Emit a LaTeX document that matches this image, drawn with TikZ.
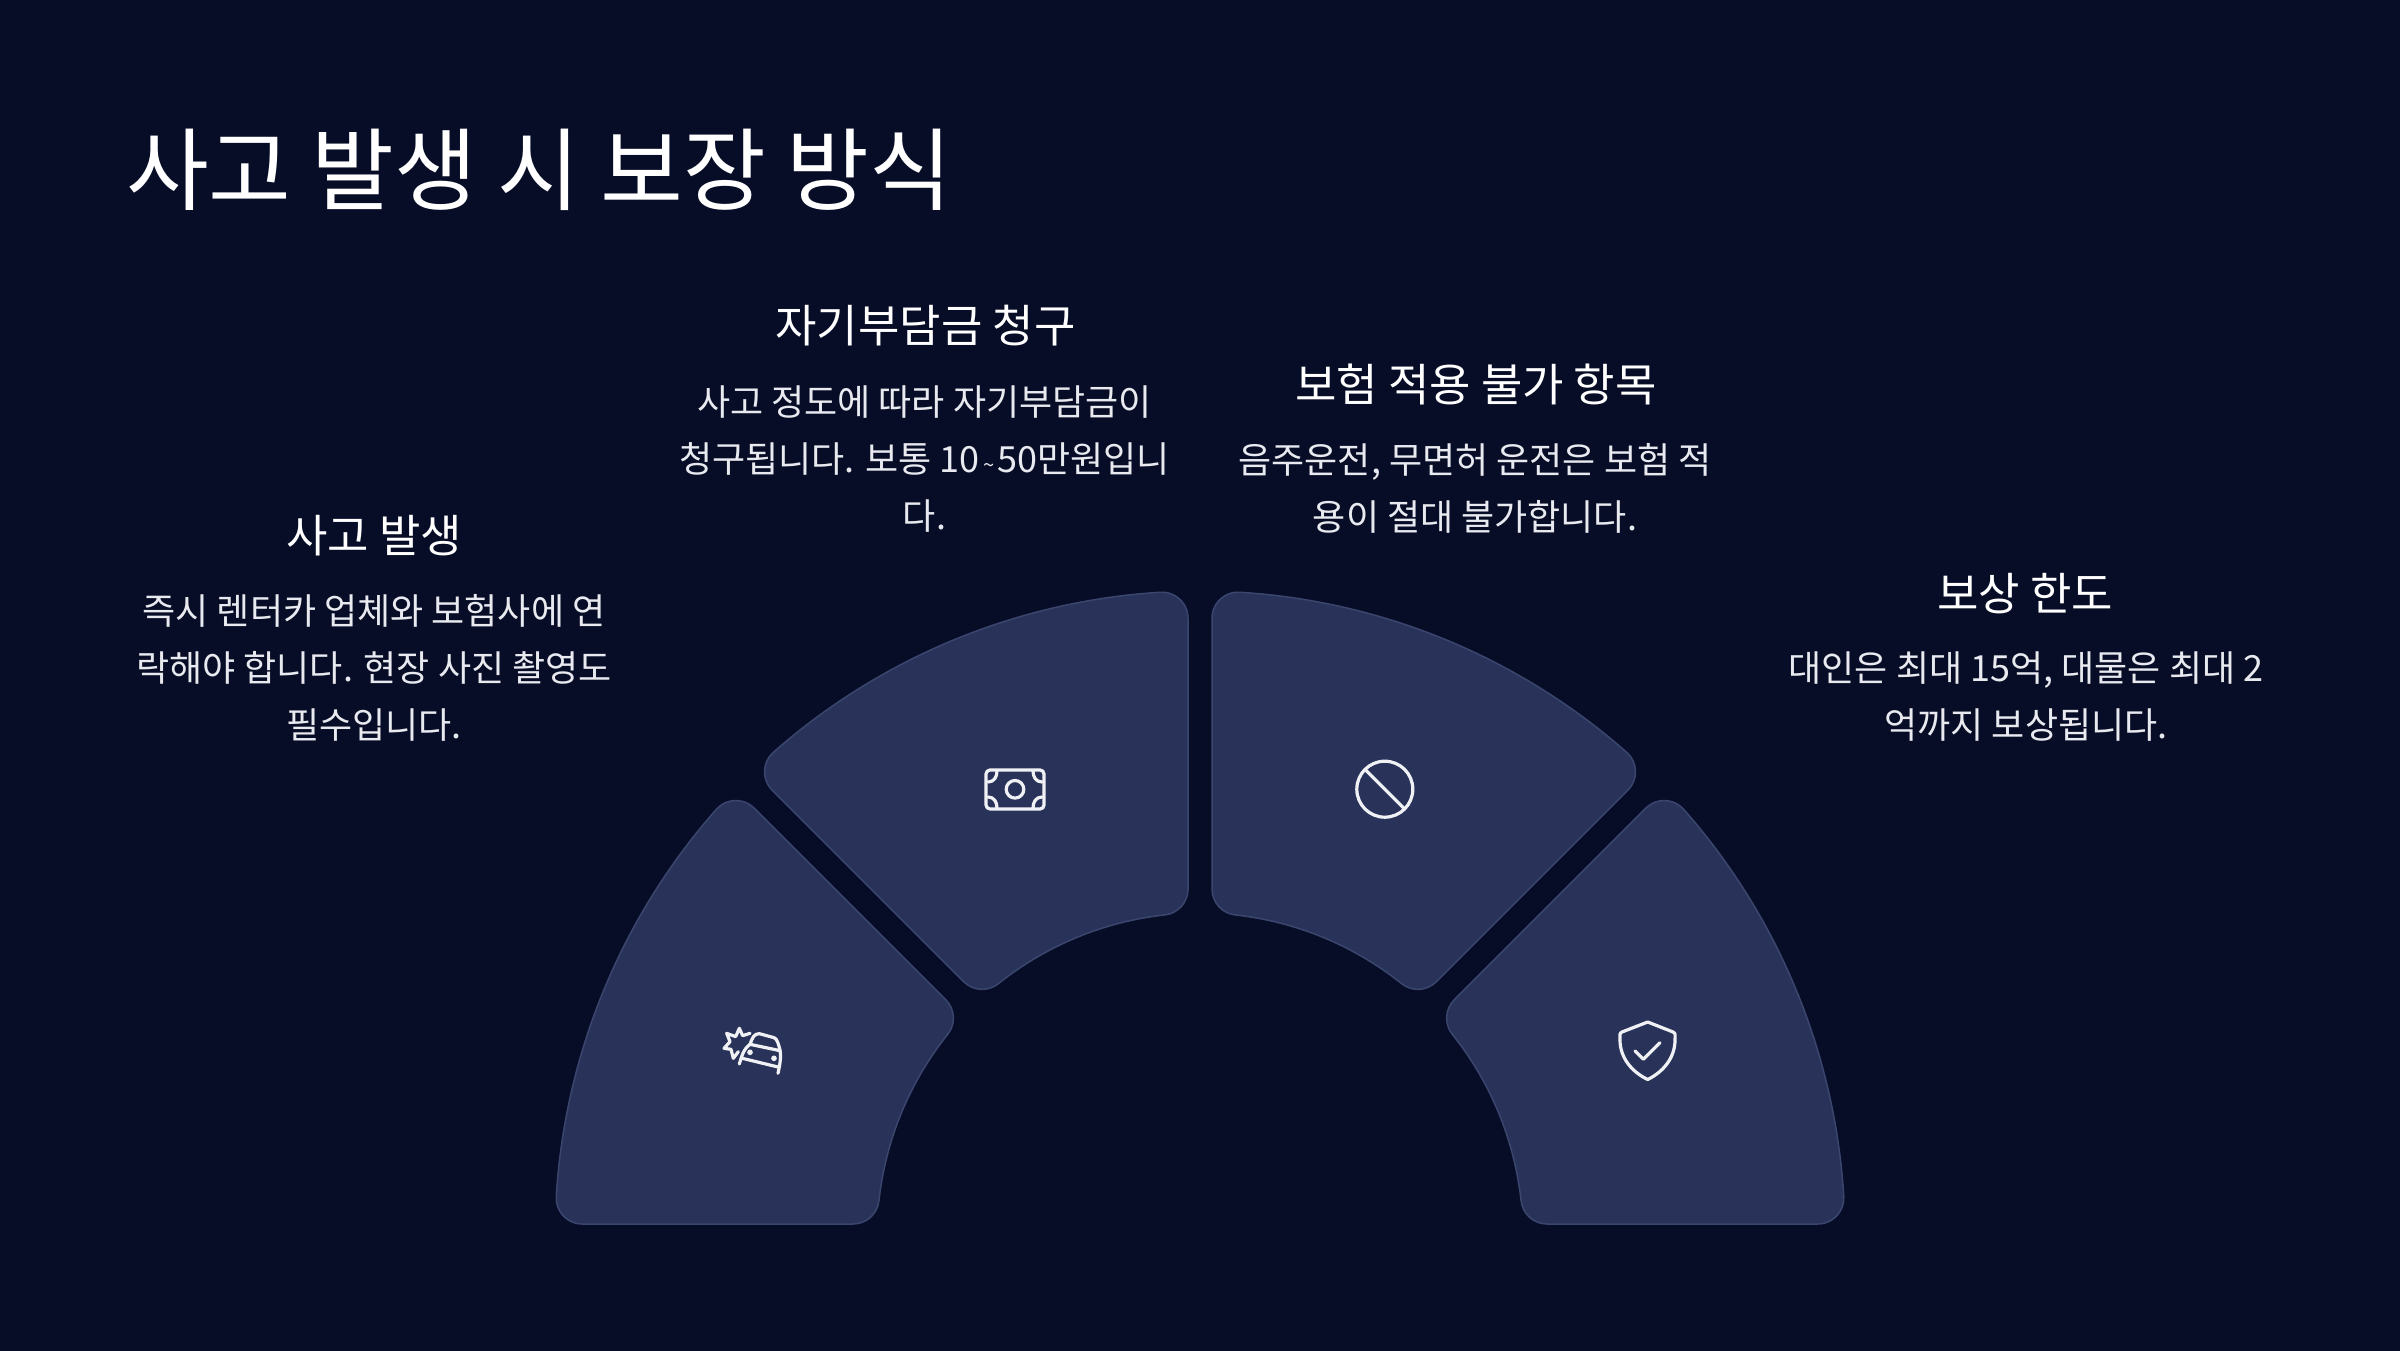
\documentclass[tikz,border=0pt]{standalone}
\usepackage{fontspec}
\setmainfont{Noto Sans CJK KR}
\definecolor{bgc}{RGB}{7,13,38}
\definecolor{segc}{RGB}{41,51,89}
\definecolor{segl}{RGB}{58,70,110}
\definecolor{bodyc}{RGB}{232,234,240}
\definecolor{iconc}{RGB}{240,241,245}
\tikzset{
  segshape/.style={fill=segc,draw=segl,line width=1.5pt},
  headtxt/.style={text=white,inner sep=0pt,anchor=center,font=\fontsize{45}{52}\selectfont},
  bodytxt/.style={text=bodyc,inner sep=0pt,anchor=center,align=center,font=\fontsize{36}{57}\selectfont},
  iconline/.style={draw=iconc,line width=3.2pt,line cap=round,line join=round,fill=none}
}
\newcommand{\segdraw}[4]{%
  \pgfmathsetmacro\dOa{asin((#3+26)/619)}%
  \pgfmathsetmacro\dOb{asin((#4+26)/619)}%
  \pgfmathsetmacro\dIa{asin((#3+26)/349)}%
  \pgfmathsetmacro\dIb{asin((#4+26)/349)}%
  \pgfmathsetmacro\tOa{619*cos(\dOa)}%
  \pgfmathsetmacro\tOb{619*cos(\dOb)}%
  \pgfmathsetmacro\tIa{349*cos(\dIa)}%
  \pgfmathsetmacro\tIb{349*cos(\dIb)}%
  \pgfmathsetmacro\xOa{\tOa*cos(#1)-#3*sin(#1)}%
  \pgfmathsetmacro\yOa{\tOa*sin(#1)+#3*cos(#1)}%
  \pgfmathsetmacro\xIa{\tIa*cos(#1)-#3*sin(#1)}%
  \pgfmathsetmacro\yIa{\tIa*sin(#1)+#3*cos(#1)}%
  \pgfmathsetmacro\xOb{\tOb*cos(#2)+#4*sin(#2)}%
  \pgfmathsetmacro\yOb{\tOb*sin(#2)-#4*cos(#2)}%
  \pgfmathsetmacro\xIb{\tIb*cos(#2)+#4*sin(#2)}%
  \pgfmathsetmacro\yIb{\tIb*sin(#2)-#4*cos(#2)}%
  \pgfmathsetmacro\phOa{#1+\dOa}%
  \pgfmathsetmacro\phOb{#2-\dOb}%
  \pgfmathsetmacro\phIa{#1+\dIa}%
  \pgfmathsetmacro\phIb{#2-\dIb}%
  \draw[segshape] (\phOa:645pt)
    arc[start angle=\phOa,end angle=\phOb,radius=645pt]
    arc[start angle=\phOb,end angle=#2+90,radius=26pt]
    -- (\xIb pt,\yIb pt)
    arc[start angle=#2+90,end angle=\phIb+180,radius=26pt]
    arc[start angle=\phIb,end angle=\phIa,radius=323pt]
    arc[start angle=\phIa+180,end angle=#1+270,radius=26pt]
    -- (\xOa pt,\yOa pt)
    arc[start angle=#1+270,end angle=\phOa+360,radius=26pt]
    -- cycle;%
}
\begin{document}
\begin{tikzpicture}[x=1pt,y=1pt]
\begin{scope}[shift={(0,1350)},yscale=-1]
\path[use as bounding box] (0,0) rectangle (2400,1350);
\fill[bgc] (-6,-6) rectangle (2406,1356);
\begin{scope}[shift={(1200,1236)},yscale=-1]
  \segdraw{135}{180}{12.7}{12}
  \segdraw{90}{135}{12}{12.7}
  \segdraw{45}{90}{12.7}{12}
  \segdraw{0}{45}{12}{12.7}
\end{scope}

\node[text=white,inner sep=0pt,anchor=center,font=\fontsize{90}{100}\selectfont] (title) at (539,170) {사고 발생 시 보장 방식};

\node[headtxt] (h1) at (374,536) {사고 발생};
\node[bodytxt] (b1) at (374,668) {즉시 렌터카 업체와 보험사에 연\\락해야 합니다. 현장 사진 촬영도\\필수입니다.};
\node[headtxt] (h2) at (925.5,326) {자기부담금 청구};
\node[bodytxt] (b2) at (924.5,459) {사고 정도에 따라 자기부담금이\\청구됩니다. 보통 10{\fontsize{20}{20}\selectfont\,\textasciitilde\,}50만원입니\\다.};
\node[headtxt] (h3) at (1476,384) {보험 적용 불가 항목};
\node[bodytxt] (b3) at (1475,488) {음주운전, 무면허 운전은 보험 적\\용이 절대 불가합니다.};
\node[headtxt] (h4) at (2025,594) {보상 한도};
\node[bodytxt] (b4) at (2026,697) {대인은 최대 15억, 대물은 최대 2\\억까지 보상됩니다.};

% car crash icon
\begin{scope}[shift={(700,990)},scale=0.3333]
  \draw[iconline] (150,130)--(128,137)--(118,115)--(107,140)--(80,130)--(90,155)--(72,175)--(93,178)--(100,205)--(115,185);
  \draw[iconline] (150,163) .. controls (156,146) and (162,130) .. (178,131) -- (222,143) .. controls (232,146) and (236,165) .. (240,180) .. controls (243,195) and (242,215) .. (234,250);
  \draw[iconline] (150,163) -- (240,182);
  \draw[iconline] (150,163) .. controls (132,176) and (128,190) .. (118,222);
  \draw[iconline] (127,205) -- (238,232);
  \fill[iconc] (150,187) circle (8.5);
  \fill[iconc] (222,205) circle (8.5);
\end{scope}

% money icon
\draw[iconline,rounded corners=4pt] (986,770) rectangle (1044,809);
\draw[iconline] (1015,789.3) circle (8.8);
\draw[iconline] (988,782) .. controls (994,782) and (997,777) .. (997,771);
\draw[iconline] (1042,782) .. controls (1036,782) and (1033,777) .. (1033,771);
\draw[iconline] (988,797) .. controls (994,797) and (997,802) .. (997,808);
\draw[iconline] (1042,797) .. controls (1036,797) and (1033,802) .. (1033,808);

% prohibit icon
\draw[iconline] (1384.8,789.2) circle (28);
\draw[iconline] (1365,769.5) -- (1404.5,809);

% shield icon
\draw[iconline] (1647.7,1022) -- (1673,1032) .. controls (1676,1033) and (1675,1036) .. (1675,1040) .. controls (1675,1058) and (1663,1072) .. (1647.7,1079.5) .. controls (1632,1072) and (1620,1058) .. (1620,1040) .. controls (1620,1036) and (1619,1033) .. (1622,1032) -- cycle;
\draw[iconline] (1635,1051) -- (1643.3,1059.3) -- (1660,1042.7);
\end{scope}
\end{tikzpicture}
\end{document}
